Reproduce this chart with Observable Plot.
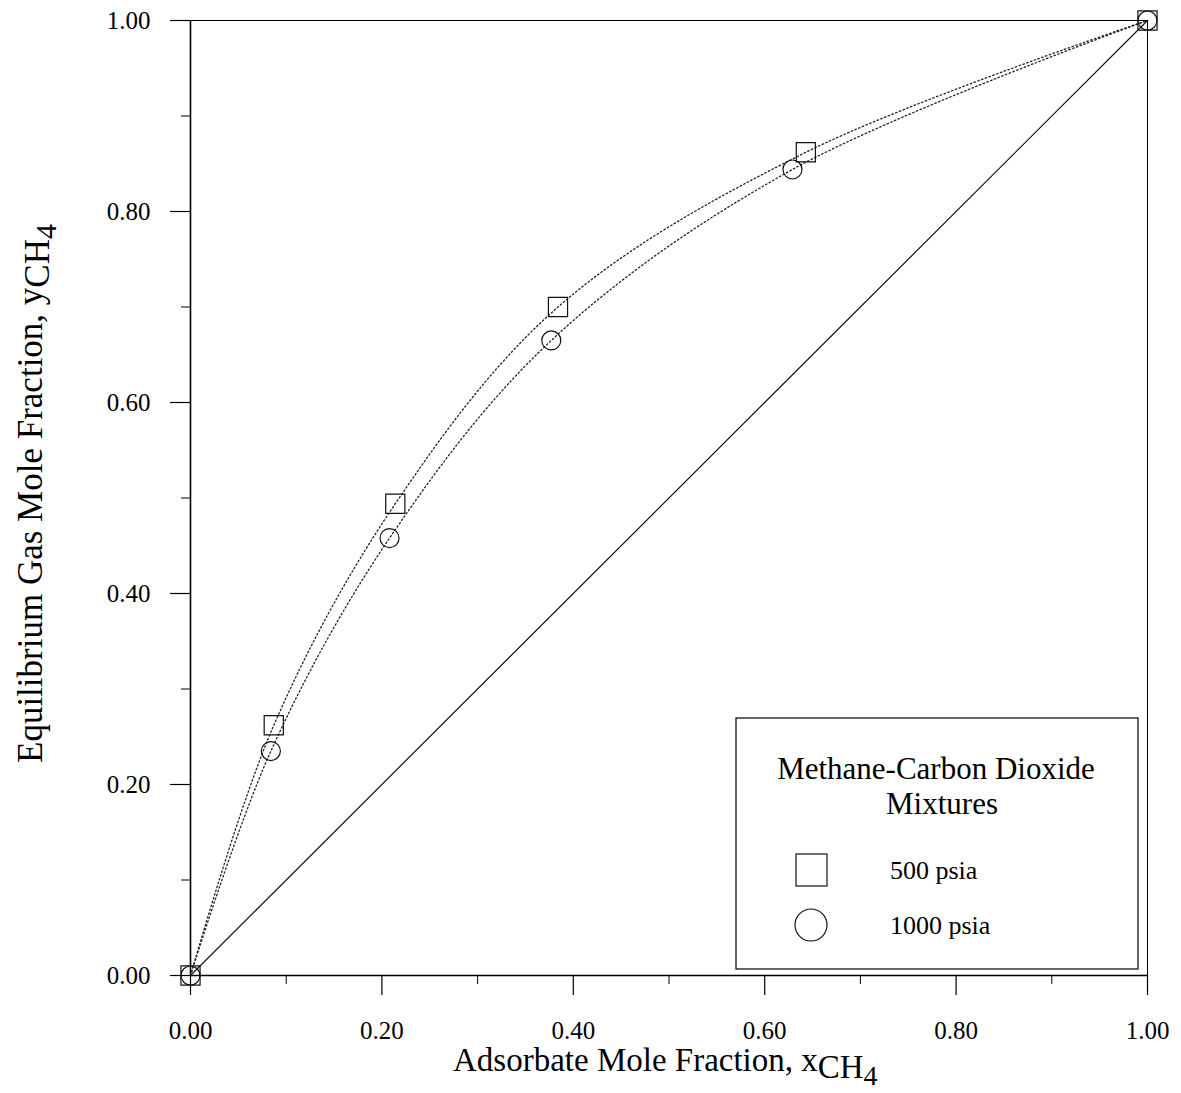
<!DOCTYPE html>
<html><head><meta charset="utf-8">
<script src="https://cdn.jsdelivr.net/npm/d3@7"></script>
<script src="https://cdn.jsdelivr.net/npm/@observablehq/plot@0.6"></script>
<style>
body{margin:0;background:#fff;}
#chart{position:relative;width:1181px;height:1093px;}
svg{font-family:"Liberation Serif","Times New Roman",serif;}
</style></head><body><div id="chart"></div>
<script>
// ---- data ----
const xMajorTicks = [0, 0.2, 0.4, 0.6, 0.8, 1.0];
const xMinorTicks = [0.1, 0.3, 0.5, 0.7, 0.9];
const yMajorTicks = [0, 0.2, 0.4, 0.6, 0.8, 1.0];
const yMinorTicks = [0.1, 0.3, 0.5, 0.7, 0.9];

const x500 = [0, 0.087, 0.214, 0.384, 0.643, 1.0];
const y500 = [0, 0.262, 0.494, 0.700, 0.862, 1.0];
const x1000 = [0, 0.084, 0.208, 0.377, 0.629, 1.0];
const y1000 = [0, 0.235, 0.458, 0.665, 0.844, 1.0];
const diagX = [0, 1];
const diagY = [0, 1];

const seriesNames = ["500 psia", "1000 psia"];
const legendTitle = ["Methane-Carbon Dioxide", "Mixtures"];
const xTitle = ["Adsorbate Mole Fraction, x", "CH", "4"];
const yTitle = ["Equilibrium Gas Mole Fraction, y", "CH", "4"];

const s500 = x500.map((x, i) => ({x, y: y500[i]}));
const s1000 = x1000.map((x, i) => ({x, y: y1000[i]}));
const diag = diagX.map((x, i) => ({x, y: diagY[i]}));

const fmt = d3.format(".2f");

const chart = Plot.plot({
  width: 1181,
  height: 1093,
  marginLeft: 190,
  marginRight: 34,
  marginTop: 20,
  marginBottom: 118,
  style: {fontFamily: "'Liberation Serif', serif", background: "#fff", color: "#000"},
  x: {domain: [0, 1]},
  y: {domain: [0, 1]},
  marks: [
    Plot.frame({stroke: "#000", strokeWidth: 1}),
    Plot.axisX({ticks: xMajorTicks, tickSize: 20, tickPadding: 26, tickFormat: fmt, fontSize: 25, label: null, strokeWidth: 1.2}),
    Plot.axisX({ticks: xMinorTicks, tickSize: 9, tickFormat: () => "", label: null, strokeWidth: 1}),
    Plot.axisY({ticks: yMajorTicks, tickSize: 20, tickPadding: 20, tickFormat: fmt, fontSize: 25, label: null, strokeWidth: 1.2}),
    Plot.axisY({ticks: yMinorTicks, tickSize: 9, tickFormat: () => "", label: null, strokeWidth: 1}),
    Plot.ruleX([0], {stroke: "#000", strokeWidth: 1.6}),
    Plot.ruleY([0], {stroke: "#000", strokeWidth: 1.6}),
    Plot.line(diag, {x: "x", y: "y", stroke: "#111", strokeWidth: 1.2}),
    Plot.line(s500, {x: "x", y: "y", curve: "catmull-rom", stroke: "#222", strokeWidth: 1.3, strokeDasharray: "1.5,2.5"}),
    Plot.line(s1000, {x: "x", y: "y", curve: "catmull-rom", stroke: "#222", strokeWidth: 1.3, strokeDasharray: "1.5,2.5"}),
    Plot.dot(s1000, {x: "x", y: "y", symbol: "circle", r: 9.5, stroke: "#111", fill: "none", strokeWidth: 1.2}),
    Plot.dot(s500, {x: "x", y: "y", symbol: "square", r: 10.8, stroke: "#111", fill: "none", strokeWidth: 1.2})
  ]
});
document.getElementById("chart").appendChild(chart);

const svg = d3.select(chart);
const FONT = "'Liberation Serif', serif";

// x axis title
const xt = svg.append("text")
  .attr("x", 453).attr("y", 1071).attr("text-anchor", "start")
  .attr("font-size", 33).attr("font-family", FONT).attr("fill", "#000");
xt.append("tspan").text(xTitle[0]);
xt.append("tspan").attr("dy", 7).text(xTitle[1]);
xt.append("tspan").attr("dy", 7).attr("font-size", 28).text(xTitle[2]);

// y axis title
const yt = svg.append("text")
  .attr("transform", "translate(42,763) rotate(-90)").attr("text-anchor", "start")
  .attr("font-size", 35).attr("font-family", FONT).attr("fill", "#000");
yt.append("tspan").text(yTitle[0]);
yt.append("tspan").attr("dy", 7).text(yTitle[1]);
yt.append("tspan").attr("dy", 7).attr("font-size", 30).text(yTitle[2]);

// legend
const lg = svg.append("g");
lg.append("rect").attr("x", 736).attr("y", 718).attr("width", 402).attr("height", 251)
  .attr("fill", "#fff").attr("stroke", "#000").attr("stroke-width", 1.2);
lg.append("text").attr("x", 936).attr("y", 779).attr("text-anchor", "middle")
  .attr("font-size", 31).attr("font-family", FONT).text(legendTitle[0]);
lg.append("text").attr("x", 942).attr("y", 814).attr("text-anchor", "middle")
  .attr("font-size", 31).attr("font-family", FONT).text(legendTitle[1]);
lg.append("rect").attr("x", 796).attr("y", 854).attr("width", 31).attr("height", 32)
  .attr("fill", "none").attr("stroke", "#111").attr("stroke-width", 1.2);
lg.append("circle").attr("cx", 811).attr("cy", 925).attr("r", 16)
  .attr("fill", "none").attr("stroke", "#111").attr("stroke-width", 1.2);
lg.append("text").attr("x", 890).attr("y", 879).attr("text-anchor", "start")
  .attr("font-size", 26).attr("font-family", FONT).text(seriesNames[0]);
lg.append("text").attr("x", 890).attr("y", 934).attr("text-anchor", "start")
  .attr("font-size", 26).attr("font-family", FONT).text(seriesNames[1]);
</script>
</body></html>
